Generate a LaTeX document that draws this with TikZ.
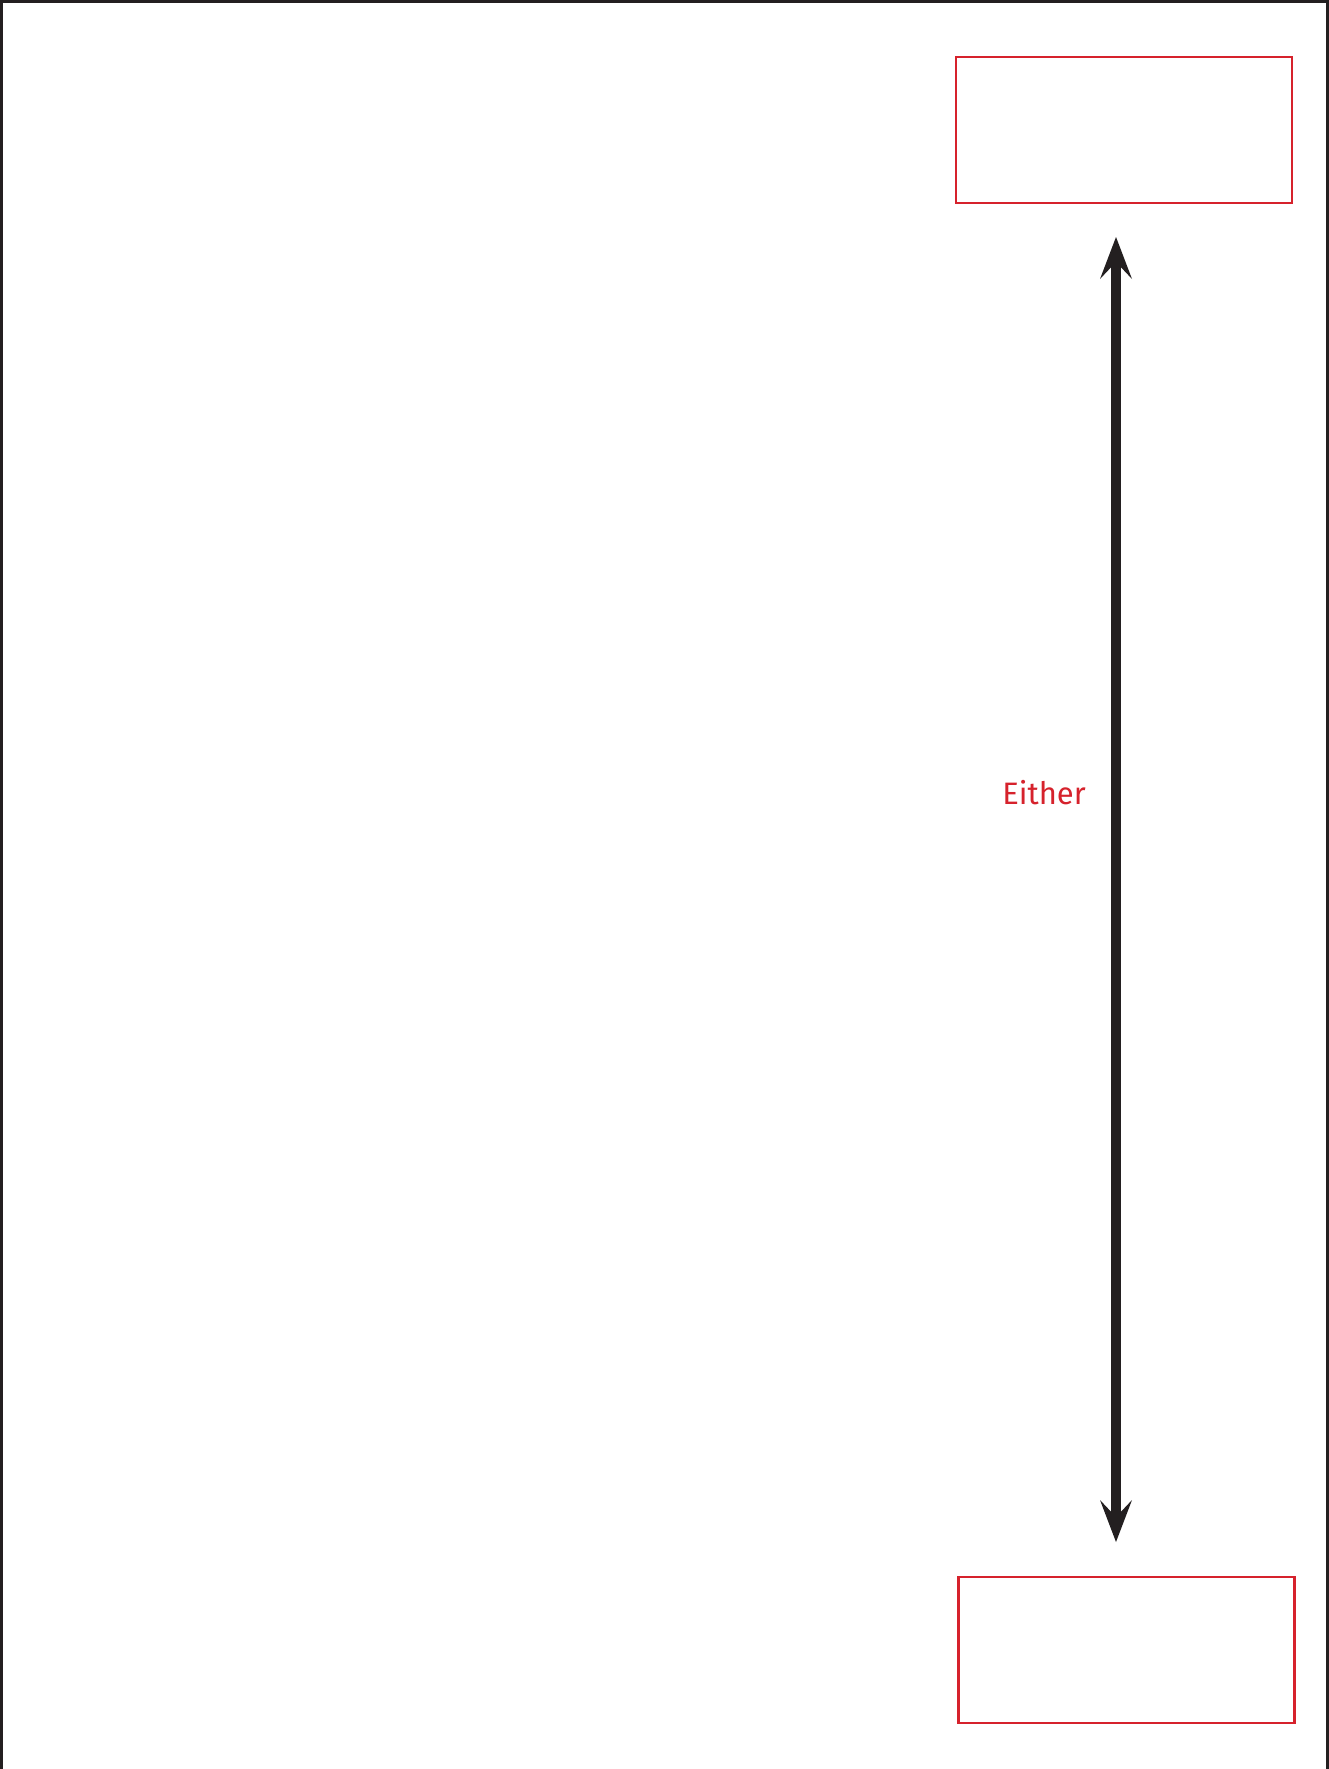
\documentclass[tikz,border=0pt]{standalone}
\usepackage{fontspec}
\setmainfont{Fira Sans}
\usetikzlibrary{arrows.meta}
\definecolor{boxred}{RGB}{214,34,44}
\definecolor{ink}{RGB}{35,31,32}
\tikzset{
  redbox/.style={draw=boxred, line width=2.6pt, minimum width=336pt, minimum height=146pt, inner sep=0pt},
  bigarrow/.style={draw=ink, line width=10.5pt, {Stealth[length=42pt,width=32pt,inset=17pt,line width=0pt]}-{Stealth[length=42pt,width=32pt,inset=17pt,line width=0pt]}},
  lbl/.style={text=boxred, font=\fontsize{31}{36}\selectfont, inner sep=0pt}
}
\begin{document}
\begin{tikzpicture}[x=1pt,y=-1pt]
\useasboundingbox (0,0) rectangle (1329,1769);
\fill[white] (0,0) rectangle (1329,1769);
\draw[ink, line width=2.6pt] (1.3,1769) -- (1.3,1.3) -- (1327.7,1.3) -- (1327.7,1769);
\node[redbox] (top) at (1124,130) {};
\node[redbox] (bot) at (1126.5,1650) {};
\coordinate (atop) at (1116,237);
\coordinate (abot) at (1116,1542);
\draw[bigarrow] (atop) -- (abot);
\node[lbl, anchor=base east] (either) at (1086,804) {Either};
\end{tikzpicture}
\end{document}
